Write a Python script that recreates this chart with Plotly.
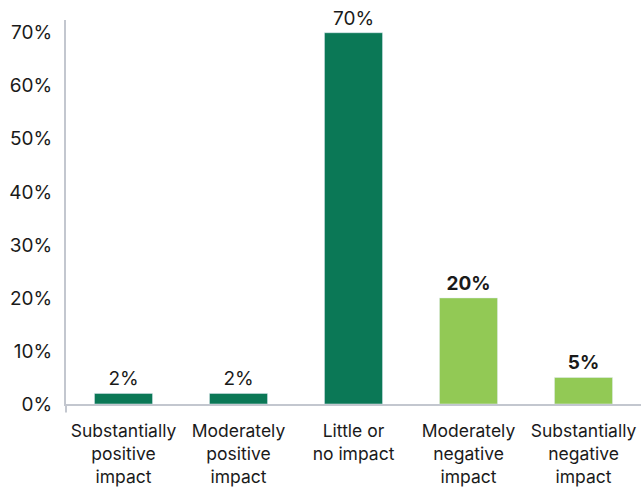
import plotly.graph_objects as go

categories = ["Substantially<br>positive<br>impact", "Moderately<br>positive<br>impact",
              "Little or<br>no impact", "Moderately<br>negative<br>impact",
              "Substantially<br>negative<br>impact"]
values = [2, 2, 70, 20, 5]
bold = [False, False, False, True, True]
colors = ["#0b7856", "#0b7856", "#0b7856", "#92c955", "#92c955"]
tick_vals = [0, 10, 20, 30, 40, 50, 60, 70]
tick_text = ["0%", "10%", "20%", "30%", "40%", "50%", "60%", "70%"]

labels = [f"<b>{v}%</b>" if b else f"{v}%" for v, b in zip(values, bold)]

FONT = "Inter"
fig = go.Figure(go.Bar(
    x=list(range(len(values))), y=values, marker_color=colors, width=0.505,
    text=labels, textposition="outside", cliponaxis=False, constraintext="none",
    textfont=dict(family=FONT, size=19, color="#1a1a1a"),
))
fig.update_layout(
    width=641, height=487, margin=dict(l=66, r=0, t=20, b=81),
    plot_bgcolor="white", paper_bgcolor="white", showlegend=False,
    font=dict(family=FONT, color="#1a1a1a"),
    xaxis=dict(range=[-0.5, 4.5], tickvals=list(range(len(values))), ticktext=categories,
               showline=True, linecolor="#c3c7cf", linewidth=2, ticks="",
               tickfont=dict(size=17.5, family=FONT), showgrid=False,
               ticklabelstandoff=10),
    yaxis=dict(range=[0, 72.4], tickvals=tick_vals, ticktext=tick_text,
               showline=True, linecolor="#c3c7cf", linewidth=2, ticks="",
               tickfont=dict(size=19, family=FONT), showgrid=False, zeroline=False,
               ticklabelstandoff=8),
    bargap=0.5,
)
fig.add_shape(type="line", xref="paper", yref="paper", x0=0, x1=0, y0=0, y1=-0.022,
              line=dict(color="#c3c7cf", width=2))
fig.write_html("out.html")
